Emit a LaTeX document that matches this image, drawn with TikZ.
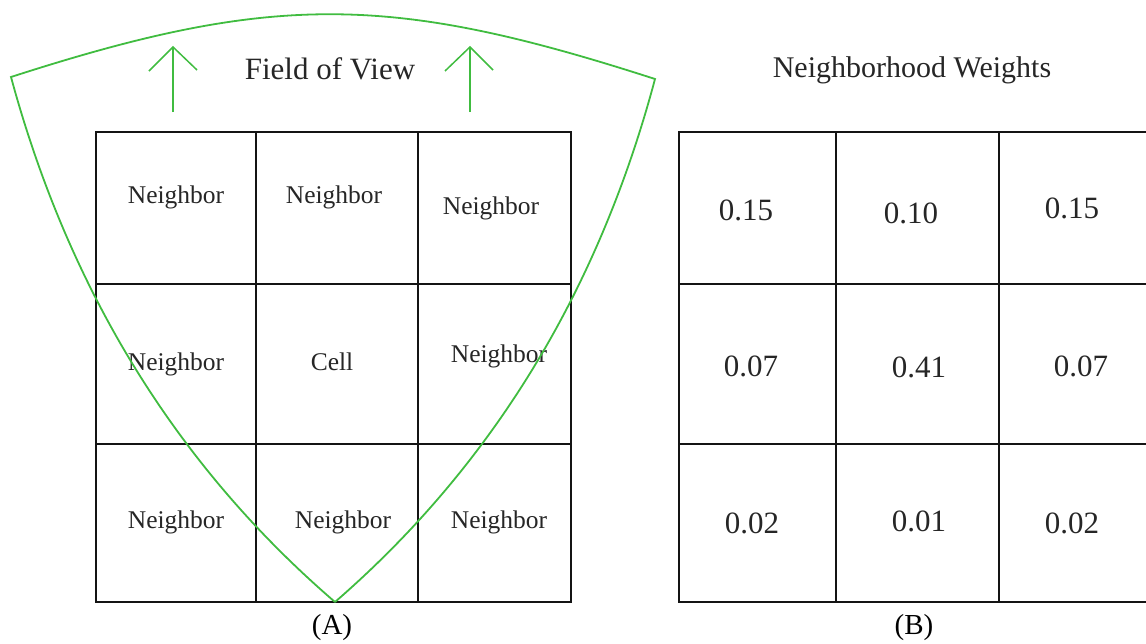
\documentclass[tikz,border=0pt]{standalone}
\usepackage{fontspec}
\setmainfont{Liberation Serif}
\usetikzlibrary{calc}

\definecolor{fovgreen}{RGB}{64,188,64}
\definecolor{gridink}{RGB}{20,20,20}

\tikzset{
  gridline/.style={draw=gridink, line width=1.8pt},
  fovline/.style={draw=fovgreen, line width=1.8pt, line join=miter},
  fovarrow/.style={draw=fovgreen, line width=1.5pt},
  celltext/.style={anchor=base, inner sep=0pt, text=black!85,
    font=\fontsize{25.5}{28}\selectfont},
  weighttext/.style={anchor=base, inner sep=0pt, text=black!85,
    font=\fontsize{31}{34}\selectfont},
  titletext/.style={anchor=base, inner sep=0pt, text=black!85,
    font=\fontsize{31}{34}\selectfont},
  captiontext/.style={anchor=base, inner sep=0pt, text=black,
    font=\fontsize{29}{32}\selectfont},
}

\begin{document}
\begin{tikzpicture}[x=1pt, y=-1pt]
  \useasboundingbox (0,0) rectangle (1146,643);
  \clip (0,0) rectangle (1146,643);

  % ---------- (A) cell grid ----------
  \draw[gridline] (96,132) rectangle (571,602);
  \draw[gridline] (256,132) -- (256,602);
  \draw[gridline] (418,132) -- (418,602);
  \draw[gridline] (96,284) -- (571,284);
  \draw[gridline] (96,444) -- (571,444);

  \node[celltext] (n11) at (176,203) {Neighbor};
  \node[celltext] (n12) at (334,203) {Neighbor};
  \node[celltext] (n13) at (491,214) {Neighbor};
  \node[celltext] (n21) at (176,370) {Neighbor};
  \node[celltext] (cell) at (332,370) {Cell};
  \node[celltext] (n23) at (499,362) {Neighbor};
  \node[celltext] (n31) at (176,528) {Neighbor};
  \node[celltext] (n32) at (343,528) {Neighbor};
  \node[celltext] (n33) at (499,528) {Neighbor};

  % ---------- field of view outline ----------
  \coordinate (fovL) at (11,77);
  \coordinate (fovR) at (655,79);
  \coordinate (fovV) at (335,602);
  \coordinate (ctlL) at (98,398);
  \coordinate (ctlR) at (570,398);
  \draw[fovline]
    (fovV) .. controls ($(fovV)!2/3!(ctlL)$) and ($(fovL)!2/3!(ctlL)$) .. (fovL)
           .. controls (274,-8) and (392,-6) .. (fovR)
           .. controls ($(fovR)!2/3!(ctlR)$) and ($(fovV)!2/3!(ctlR)$) .. (fovV);

  % viewing direction arrows
  \coordinate (a1tail) at (173,112);
  \coordinate (a1tip)  at (173,47);
  \coordinate (a1l)    at (149,71);
  \coordinate (a1r)    at (197,70);
  \draw[fovarrow] (a1tail) -- (a1tip);
  \draw[fovarrow] (a1l) -- (a1tip) -- (a1r);

  \coordinate (a2tail) at (470,112);
  \coordinate (a2tip)  at (470,47);
  \coordinate (a2l)    at (445,71);
  \coordinate (a2r)    at (493,70);
  \draw[fovarrow] (a2tail) -- (a2tip);
  \draw[fovarrow] (a2l) -- (a2tip) -- (a2r);

  \node[titletext] (fov) at (330,79) {Field of View};

  % ---------- (B) weight grid ----------
  \draw[gridline] (679,132) rectangle (1160,602);
  \draw[gridline] (836,132) -- (836,602);
  \draw[gridline] (999,132) -- (999,602);
  \draw[gridline] (679,284) -- (1160,284);
  \draw[gridline] (679,444) -- (1160,444);

  \node[titletext, font=\fontsize{30}{33}\selectfont] (nw) at (912,77) {Neighborhood Weights};

  \node[weighttext] (w11) at (746,220) {0.15};
  \node[weighttext] (w12) at (911,223) {0.10};
  \node[weighttext] (w13) at (1072,218) {0.15};
  \node[weighttext] (w21) at (751,376) {0.07};
  \node[weighttext] (w22) at (919,377) {0.41};
  \node[weighttext] (w23) at (1081,376) {0.07};
  \node[weighttext] (w31) at (752,533) {0.02};
  \node[weighttext] (w32) at (919,531) {0.01};
  \node[weighttext] (w33) at (1072,533) {0.02};

  % ---------- captions ----------
  \node[captiontext] (capA) at (332,634) {(A)};
  \node[captiontext] (capB) at (914,634) {(B)};
\end{tikzpicture}
\end{document}
